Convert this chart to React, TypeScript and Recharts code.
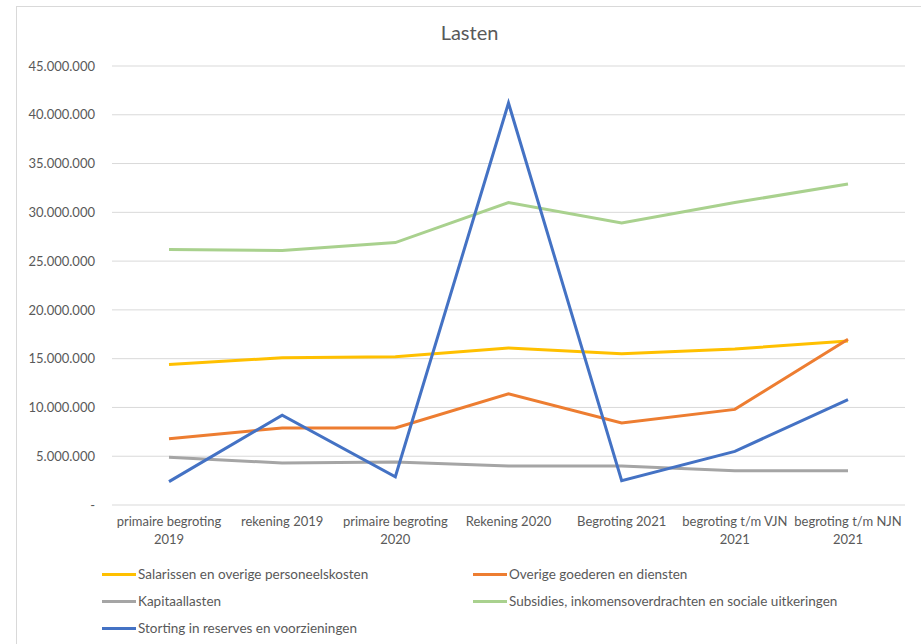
import { LineChart, Line, XAxis, YAxis, CartesianGrid, Text } from 'recharts';

const categories = [
  'primaire begroting 2019',
  'rekening 2019',
  'primaire begroting 2020',
  'Rekening 2020',
  'Begroting 2021',
  'begroting t/m VJN 2021',
  'begroting t/m NJN 2021',
];

const salarissen = [14400000, 15100000, 15200000, 16100000, 15500000, 16000000, 16800000];
const overige = [6800000, 7900000, 7900000, 11400000, 8400000, 9800000, 17000000];
const kapitaallasten = [4900000, 4300000, 4400000, 4000000, 4000000, 3500000, 3500000];
const subsidies = [26200000, 26100000, 26900000, 31000000, 28900000, 31000000, 32900000];
const storting = [2400000, 9200000, 2900000, 41200000, 2500000, 5500000, 10800000];

const yTicks = [0, 5000000, 10000000, 15000000, 20000000, 25000000, 30000000, 35000000, 40000000, 45000000];

const series = [
  { key: 'salarissen', name: 'Salarissen en overige personeelskosten', color: '#FFC000', values: salarissen },
  { key: 'overige', name: 'Overige goederen en diensten', color: '#ED7D31', values: overige },
  { key: 'kapitaallasten', name: 'Kapitaallasten', color: '#A5A5A5', values: kapitaallasten },
  { key: 'subsidies', name: 'Subsidies, inkomensoverdrachten en sociale uitkeringen', color: '#A9D18E', values: subsidies },
  { key: 'storting', name: 'Storting in reserves en voorzieningen', color: '#4472C4', values: storting },
];

const data = categories.map((name, i) => {
  const row: Record<string, string | number> = { name };
  series.forEach((s) => {
    row[s.key] = s.values[i];
  });
  return row;
});

const FONT = 'Lato, "Open Sans", sans-serif';
const TEXT_COLOR = '#595959';

const formatY = (v: number) => (v === 0 ? '-' : v.toLocaleString('de-DE'));

function XTick(props: any) {
  const { x, y, payload } = props;
  return (
    <Text
      x={x}
      y={y + 4}
      width={124}
      textAnchor="middle"
      verticalAnchor="start"
      lineHeight={18}
      fill={TEXT_COLOR}
      fontSize={13}
      fontFamily={FONT}
    >
      {payload.value}
    </Text>
  );
}

// legend order as in the picture: two columns, filled row by row
const legendPos = [
  { x: 85, y: 567 },
  { x: 456, y: 567 },
  { x: 85, y: 594 },
  { x: 456, y: 594 },
  { x: 85, y: 621 },
];

export default function App() {
  return (
    <div style={{ position: 'fixed', left: 0, top: 0, width: 921, height: 644, overflow: 'hidden', background: '#fff' }}>
      <div
        style={{
          position: 'absolute',
          left: 16,
          top: 6,
          width: 920,
          height: 660,
          border: '1px solid #d9d9d9',
          fontFamily: FONT,
        }}
      >
        <div
          style={{
            position: 'absolute',
            left: 0,
            width: 905,
            top: 13,
            textAlign: 'center',
            fontSize: 20,
            color: TEXT_COLOR,
          }}
        >
          Lasten
        </div>
        <div style={{ position: 'absolute', left: 0, top: 0, width: 888, height: 636, overflow: 'hidden' }}>
          <LineChart width={888} height={636} data={data} margin={{ top: 59, right: 0, bottom: 88, left: 0 }}>
            <CartesianGrid vertical={false} stroke="#d9d9d9" x={95} width={793} />
            <XAxis
              dataKey="name"
              interval={0}
              axisLine={false}
              tickLine={false}
              height={50}
              padding={{ left: 57, right: 57 }}
              tick={<XTick />}
            />
            <YAxis
              width={95}
              domain={[0, 45000000]}
              ticks={yTicks}
              axisLine={false}
              tickLine={false}
              tickMargin={11}
              tickFormatter={formatY}
              tick={{ fill: TEXT_COLOR, fontSize: 13, fontFamily: FONT }}
            />
            {series.map((s) => (
              <Line
                key={s.key}
                type="linear"
                dataKey={s.key}
                name={s.name}
                stroke={s.color}
                strokeWidth={3}
                dot={false}
                activeDot={false}
                isAnimationActive={false}
              />
            ))}
          </LineChart>
        </div>
        {series.map((s, i) => (
          <div
            key={s.key}
            style={{
              position: 'absolute',
              left: legendPos[i].x,
              top: legendPos[i].y - 9,
              height: 18,
              display: 'flex',
              alignItems: 'center',
              fontSize: 13.5,
              color: TEXT_COLOR,
              whiteSpace: 'nowrap',
            }}
          >
            <span style={{ display: 'inline-block', width: 34, height: 3, background: s.color, marginRight: 2 }} />
            {s.name}
          </div>
        ))}
      </div>
    </div>
  );
}
